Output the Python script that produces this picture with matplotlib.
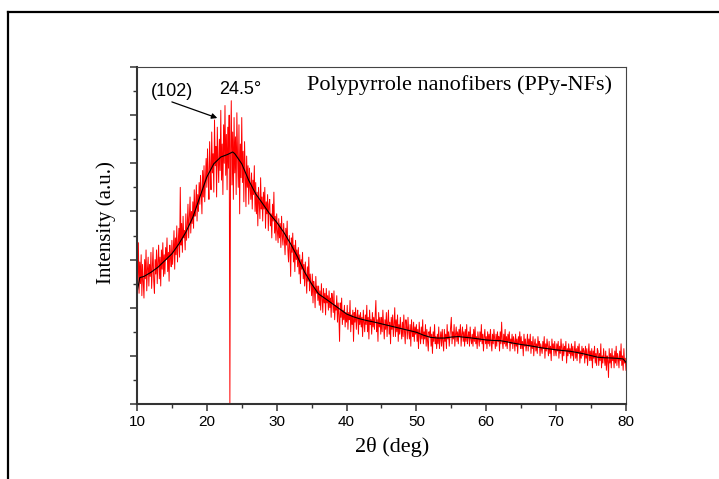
import numpy as np
import matplotlib
matplotlib.use("Agg")
import matplotlib.pyplot as plt
from matplotlib.ticker import MultipleLocator

# XRD pattern of PPy nanofibers (a.u., axis 0..14)
# raw counts, step 0.1 deg from 10 to 80 (one row = one degree)
two_theta = np.round(np.arange(10.0, 80.001, 0.1), 1)
intensity = [
    4.3, 5.2, 6.7, 4.6, 5.9, 5.0, 6.2, 4.5, 5.8, 5.1,
    4.4, 6.0, 5.2, 6.4, 4.7, 5.6, 6.1, 4.9, 5.8, 5.3,
    6.3, 4.8, 5.7, 6.5, 5.1, 4.6, 6.0, 5.4, 6.4, 5.0,
    5.9, 6.6, 5.2, 6.1, 4.9, 6.4, 5.6, 6.7, 5.3, 6.2,
    5.4, 6.5, 6.0, 6.9, 5.5, 6.3, 5.1, 6.6, 6.1, 5.7,
    6.8, 5.8, 6.4, 7.2, 5.6, 6.9, 6.2, 7.4, 5.9, 6.7,
    7.3, 6.1, 9.0, 6.6, 7.5, 6.3, 7.8, 6.9, 7.2, 6.4,
    7.9, 6.8, 7.4, 8.3, 6.9, 7.7, 8.6, 7.1, 8.0, 7.5,
    8.4, 7.3, 8.9, 7.8, 8.2, 9.1, 7.6, 8.7, 8.0, 9.2,
    8.3, 9.5, 8.8, 7.9, 9.7, 8.6, 9.9, 8.4, 9.3, 10.2,
    9.0, 10.6, 9.4, 8.5, 10.9, 9.8, 8.9, 11.3, 9.6, 10.4,
    8.8, 11.8, 9.9, 10.7, 8.6, 11.5, 10.1, 9.2, 11.0, 9.7,
    12.2, 9.3, 10.8, 8.7, 11.6, 10.0, 12.4, 9.5, 11.2, 8.9,
    11.5, 9.8, 12.0, 0.0, 10.4, 12.6, 9.1, 11.3, 8.5, 11.9,
    9.6, 11.1, 8.7, 12.1, 10.3, 9.0, 11.6, 7.9, 10.8, 9.4,
    11.9, 9.2, 10.5, 8.4, 10.9, 9.6, 8.2, 10.3, 9.0, 9.9,
    8.3, 9.8, 9.0, 8.5, 9.6, 8.1, 9.3, 8.7, 9.9, 8.0,
    9.2, 7.9, 8.8, 7.4, 9.0, 8.3, 7.7, 9.4, 8.1, 8.6,
    7.6, 8.8, 8.1, 9.0, 7.3, 8.4, 7.9, 8.7, 7.2, 8.3,
    8.5, 7.4, 7.9, 6.9, 8.3, 7.6, 8.8, 7.1, 7.8, 6.8,
    7.9, 7.2, 6.7, 7.7, 6.9, 7.5, 6.5, 7.8, 7.0, 6.6,
    7.5, 6.8, 6.2, 7.3, 6.6, 7.6, 6.4, 5.9, 7.0, 6.5,
    5.3, 6.9, 6.3, 7.1, 5.9, 6.6, 5.5, 6.8, 6.0, 6.4,
    5.7, 6.5, 5.4, 6.2, 5.0, 6.0, 5.6, 6.3, 5.2, 5.8,
    4.9, 5.9, 5.3, 4.6, 5.7, 5.1, 6.1, 4.7, 5.4, 5.0,
    4.5, 5.4, 4.2, 5.1, 4.8, 4.0, 5.3, 4.6, 4.9, 4.3,
    4.9, 4.1, 4.7, 3.9, 5.0, 4.4, 3.8, 4.8, 4.2, 4.6,
    3.7, 4.8, 4.2, 4.5, 3.9, 4.7, 4.0, 4.4, 3.6, 4.6,
    4.3, 3.8, 4.7, 3.5, 4.1, 3.9, 4.5, 3.4, 4.2, 3.7,
    2.6, 4.2, 3.6, 4.4, 3.3, 3.9, 3.5, 4.1, 3.2, 3.8,
    3.4, 4.1, 3.1, 3.8, 3.5, 4.3, 3.0, 3.7, 3.3, 3.9,
    2.6, 3.8, 3.4, 4.0, 3.1, 3.6, 3.9, 2.9, 3.7, 3.3,
    3.8, 3.2, 3.6, 2.8, 3.9, 3.4, 3.0, 3.7, 3.3, 4.1,
    3.0, 3.6, 2.7, 3.9, 3.3, 3.5, 2.9, 3.8, 3.2, 3.6,
    3.1, 3.7, 4.3, 3.0, 3.5, 2.6, 3.8, 3.2, 3.6, 2.9,
    3.6, 3.0, 3.9, 3.3, 2.7, 3.5, 3.1, 3.8, 2.8, 3.4,
    3.9, 2.9, 3.4, 2.5, 3.6, 3.1, 3.7, 2.8, 3.3, 4.0,
    2.8, 3.5, 3.0, 3.7, 2.6, 3.3, 2.9, 3.6, 3.1, 2.7,
    3.4, 2.8, 3.7, 3.0, 2.5, 3.5, 3.2, 2.7, 3.6, 3.0,
    2.7, 3.3, 2.4, 3.5, 3.0, 2.8, 3.4, 2.6, 3.2, 2.9,
    3.3, 2.6, 3.1, 2.3, 3.4, 2.9, 2.5, 3.2, 2.7, 3.5,
    2.5, 3.0, 2.7, 3.3, 2.4, 3.1, 2.6, 2.2, 3.0, 2.8,
    3.2, 2.4, 2.9, 2.1, 3.0, 2.6, 3.3, 2.5, 2.8, 2.3,
    2.9, 2.5, 3.2, 2.3, 2.7, 3.0, 2.4, 3.1, 2.6, 2.2,
    3.1, 2.6, 2.9, 2.3, 3.3, 2.7, 3.0, 2.4, 2.8, 3.2,
    3.6, 2.5, 3.0, 2.7, 3.3, 2.4, 2.9, 3.2, 2.6, 3.0,
    2.5, 3.1, 2.8, 3.3, 2.4, 2.9, 3.2, 2.6, 3.0, 2.4,
    3.1, 2.6, 3.3, 2.5, 2.8, 3.0, 2.4, 3.2, 2.7, 2.5,
    2.9, 2.4, 3.1, 2.6, 3.2, 2.5, 2.8, 2.3, 3.0, 2.7,
    2.4, 3.0, 2.6, 3.3, 2.5, 2.9, 2.2, 2.8, 3.1, 2.5,
    2.8, 2.3, 3.0, 2.5, 2.9, 2.4, 3.1, 2.6, 2.2, 2.9,
    2.5, 3.1, 2.7, 2.3, 2.9, 2.4, 3.0, 2.6, 2.8, 2.2,
    3.0, 2.5, 3.4, 2.6, 2.3, 2.9, 2.5, 3.1, 2.4, 2.8,
    2.3, 2.9, 2.6, 3.0, 2.2, 2.7, 2.5, 2.9, 2.3, 2.8,
    2.6, 2.2, 2.9, 2.4, 2.7, 2.1, 2.8, 2.5, 3.0, 2.3,
    2.8, 2.3, 2.6, 2.0, 2.9, 2.4, 2.7, 2.2, 2.5, 2.9,
    2.2, 2.7, 2.4, 2.9, 2.1, 2.6, 2.3, 2.8, 2.0, 2.5,
    2.7, 2.2, 2.5, 2.1, 2.8, 2.4, 2.6, 2.0, 2.5, 2.3,
    2.1, 2.6, 2.3, 2.8, 1.9, 2.5, 2.2, 2.7, 2.4, 2.0,
    2.6, 2.1, 2.4, 1.8, 2.7, 2.3, 2.5, 2.0, 2.6, 2.2,
    2.0, 2.5, 2.2, 2.6, 1.9, 2.4, 2.1, 2.7, 2.3, 1.8,
    2.5, 2.0, 2.4, 2.2, 2.6, 1.7, 2.3, 2.0, 2.5, 2.1,
    2.3, 1.9, 2.5, 2.0, 2.4, 1.8, 2.2, 2.6, 1.9, 2.3,
    1.8, 2.4, 2.1, 2.5, 1.7, 2.2, 1.9, 2.4, 2.0, 2.3,
    2.2, 1.7, 2.4, 1.9, 2.3, 1.6, 2.1, 2.5, 1.8, 2.2,
    1.8, 2.3, 1.5, 2.2, 1.9, 2.4, 1.7, 2.1, 1.6, 2.3,
    2.2, 1.6, 2.1, 1.8, 2.5, 1.5, 2.0, 1.7, 2.3, 1.9,
    1.6, 2.2, 1.4, 2.0, 1.8, 1.1, 2.3, 1.7, 2.1, 1.5,
    2.3, 1.8, 2.0, 1.5, 2.2, 1.7, 2.4, 1.6, 2.1, 1.9,
    1.5, 2.2, 1.8, 2.5, 1.6, 2.0, 1.4, 2.3, 1.7, 1.9,
    1.4,
]

# smoothed curve (black)
smooth_x = [10, 10.4, 11, 12, 13, 14, 15, 16, 17, 18, 19, 20, 21, 22, 23, 23.7,
            24, 25, 26, 27, 28, 29, 30, 31, 32, 33, 34, 35, 36, 37, 38, 39,
            40, 41, 42, 43, 44, 45, 46, 47, 48, 49, 50, 51, 52, 53, 54, 55,
            56, 57, 58, 59, 60, 61, 62, 63, 64, 65, 66, 67, 68, 69, 70, 71,
            72, 73, 74, 75, 76, 77, 78, 79, 79.6, 80]
smooth_y = [4.6, 5.25, 5.3, 5.47, 5.68, 5.96, 6.24, 6.65, 7.14, 7.76, 8.6, 9.43,
            9.98, 10.26, 10.37, 10.47,
            10.4, 9.98, 9.29, 8.73, 8.32, 7.9, 7.55, 7.14, 6.65, 6.1,
            5.48, 4.99, 4.57, 4.37, 4.16, 3.95, 3.74, 3.62, 3.53, 3.46,
            3.4, 3.33, 3.26, 3.19, 3.12, 3.05, 2.98, 2.86, 2.77, 2.74,
            2.74, 2.78, 2.8, 2.77, 2.74, 2.7, 2.66, 2.64, 2.63, 2.58,
            2.52, 2.47, 2.43, 2.38, 2.33, 2.29, 2.25, 2.22, 2.19, 2.14,
            2.08, 2.01, 1.94, 1.92, 1.91, 1.89, 1.87, 1.73]

fig = plt.figure(figsize=(7.19, 4.79), dpi=100)
# outer frame (only top and left edges visible)
fig.add_artist(plt.Line2D([0.011, 1.0], [0.975, 0.975], color="black", lw=1.6))
fig.add_artist(plt.Line2D([0.011, 0.011], [0.0, 0.975], color="black", lw=1.6))

ax = fig.add_axes([0.1905, 0.1566, 0.6801, 0.7035])
ax.plot(two_theta, intensity, color="#ff0000", lw=0.7)
ax.plot(smooth_x, smooth_y, color="black", lw=0.8)

ax.set_xlim(10, 80)
ax.set_ylim(0, 14)
ax.xaxis.set_major_locator(MultipleLocator(10))
ax.xaxis.set_minor_locator(MultipleLocator(5))
ax.yaxis.set_major_locator(MultipleLocator(2))
ax.yaxis.set_minor_locator(MultipleLocator(1))
ax.set_yticklabels([])
ax.tick_params(which="major", direction="out", length=5, width=1.1, color="#333333",
               labelsize=11, pad=3)
ax.tick_params(which="minor", direction="out", length=3, width=1.0, color="#333333")
for lab in ax.get_xticklabels():
    lab.set_family("Liberation Sans")

for s in ["left", "bottom"]:
    ax.spines[s].set_linewidth(1.5)
    ax.spines[s].set_color("#333333")
for s in ["top", "right"]:
    ax.spines[s].set_linewidth(0.8)
    ax.spines[s].set_color("#444444")

fig.text(392 / 719, 1 - 447 / 479, "2θ (deg)", ha="center", va="center",
         family="Liberation Serif", fontsize=16)
fig.text(106 / 719, 1 - 223 / 479, "Intensity (a.u.)", ha="center", va="center",
         rotation=90, family="Liberation Serif", fontsize=15)

fig.text(612 / 719, 1 - 85 / 479, "Polypyrrole nanofibers (PPy-NFs)", ha="right",
         va="center", family="Liberation Serif", fontsize=16)
fig.text(172 / 719, 1 - 91 / 479, "(102)", ha="center", va="center",
         family="Liberation Sans", fontsize=13)
fig.text(240 / 719, 1 - 90 / 479, "24.5°", ha="center", va="center",
         family="Liberation Sans", fontsize=13)
ax.annotate("", xy=(21.5, 11.88), xytext=(15.0, 12.55),
            arrowprops=dict(arrowstyle="-|>", color="black", lw=0.9,
                            mutation_scale=8, shrinkA=0, shrinkB=0))

fig.savefig("out.png", dpi=100)
